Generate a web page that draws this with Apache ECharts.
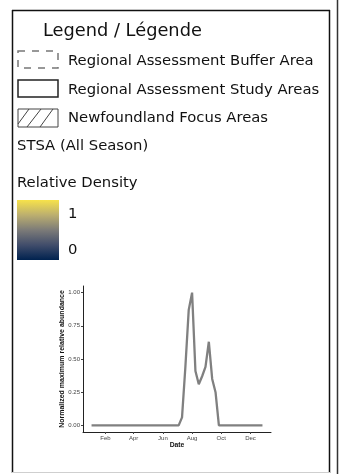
<!DOCTYPE html>
<html>
<head>
<meta charset="utf-8">
<script src="https://cdn.jsdelivr.net/npm/echarts@6/dist/echarts.min.js"></script>
<style>
    html, body { margin: 0; padding: 0; background: #fff; }
    #main { width: 339px; height: 474px; }
</style>
</head>
<body>
<div id="main"></div>
<script>
    // day of year of each weekly sample
    var weekDays = [3, 10, 17, 24, 31, 38, 45, 52, 59, 66, 73, 80, 87, 94, 101, 108, 115, 122, 129, 136,
        143, 150, 157, 164, 171, 178, 185, 192, 199, 206, 213, 220, 227, 234, 241, 248, 255, 262, 269, 276,
        283, 290, 297, 304, 311, 318, 325, 332, 339, 346, 353, 360]
    var abundance = [0, 0, 0, 0, 0, 0, 0, 0, 0, 0, 0, 0, 0, 0, 0, 0, 0, 0, 0, 0,
        0, 0, 0, 0, 0, 0, 0, 0.06, 0.44, 0.87, 1.0, 0.41, 0.31, 0.37, 0.44, 0.63, 0.35, 0.25, 0, 0,
        0, 0, 0, 0, 0, 0, 0, 0, 0, 0, 0, 0]
    var monthTickDays = [32, 91, 152, 213, 274, 335]
    var monthTickLabels = ['Feb', 'Apr', 'Jun', 'Aug', 'Oct', 'Dec']
    var yTicks = [0, 0.25, 0.5, 0.75, 1]

    var legendItems = ['Regional Assessment Buffer Area', 'Regional Assessment Study Areas', 'Newfoundland Focus Areas']
    var densityLabels = ['1', '0']

    var seriesData = weekDays.map(function(d, i) {
        return [d, abundance[i]]
    })

    var legendFont = '14.8px "DejaVu Sans"'
    var textColor = '#111'

    var myChart = echarts.init(document.getElementById('main'), null, { renderer: 'canvas' })
    var option = {
        animation: false,
        backgroundColor: '#fff',
        grid: {
            left: 83,
            right: 68,
            top: 286,
            bottom: 42
        },
        xAxis: {
            type: 'value',
            min: -14.85,
            max: 377.85,
            name: 'Date',
            nameLocation: 'middle',
            nameGap: 10,
            nameMoveOverlap: false,
            nameTextStyle: { fontSize: 6.8, fontWeight: 'bold', fontFamily: 'Liberation Sans', color: '#111' },
            splitLine: { show: false },
            axisLine: { show: true, onZero: false, lineStyle: { color: '#222', width: 1 } },
            axisTick: { show: true, length: 2, customValues: monthTickDays, lineStyle: { color: '#444' } },
            axisLabel: {
                customValues: monthTickDays,
                margin: 3,
                fontSize: 6,
                fontFamily: 'Liberation Sans',
                color: '#444',
                formatter: function(v) {
                    var i = monthTickDays.indexOf(v)
                    return i >= 0 ? monthTickLabels[i] : ''
                }
            }
        },
        yAxis: {
            type: 'value',
            min: -0.05,
            max: 1.05,
            name: 'Normalized maximum relative abundance',
            nameLocation: 'middle',
            nameGap: 17,
            nameMoveOverlap: false,
            nameTextStyle: { fontSize: 7, fontWeight: 'bold', fontFamily: 'Liberation Sans', color: '#111' },
            splitLine: { show: false },
            axisLine: { show: true, onZero: false, lineStyle: { color: '#222', width: 1 } },
            axisTick: { show: true, length: 2, customValues: yTicks, lineStyle: { color: '#444' } },
            axisLabel: {
                customValues: yTicks,
                margin: 3,
                fontSize: 6,
                fontFamily: 'Liberation Sans',
                color: '#444',
                formatter: function(v) { return v.toFixed(2) }
            }
        },
        series: [{
            type: 'line',
            data: seriesData,
            symbol: 'none',
            lineStyle: { color: '#808080', width: 2.3 }
        }],
        graphic: [
            // frame
            { type: 'line', shape: { x1: 12.5, y1: 10, x2: 12.5, y2: 473 }, style: { stroke: '#111', lineWidth: 1.5 } },
            { type: 'line', shape: { x1: 12, y1: 10.5, x2: 330, y2: 10.5 }, style: { stroke: '#111', lineWidth: 1.5 } },
            { type: 'line', shape: { x1: 329.5, y1: 10, x2: 329.5, y2: 473 }, style: { stroke: '#111', lineWidth: 1.5 } },
            { type: 'line', shape: { x1: 337.5, y1: 0, x2: 337.5, y2: 474 }, style: { stroke: '#333', lineWidth: 1.5 } },
            { type: 'line', shape: { x1: 12, y1: 472.5, x2: 330, y2: 472.5 }, style: { stroke: '#cfcfcf', lineWidth: 1 } },
            // title
            { type: 'text', x: 43, y: 31, style: { text: 'Legend / Légende', font: '17.8px "DejaVu Sans"', fill: textColor, verticalAlign: 'middle' } },
            // buffer area symbol (dashed)
            { type: 'rect', shape: { x: 18, y: 51, width: 40, height: 17 }, style: { fill: 'none', stroke: '#777', lineWidth: 1.5, lineDash: [7, 7] } },
            { type: 'text', x: 68, y: 61, style: { text: legendItems[0], font: legendFont, fill: textColor, verticalAlign: 'middle' } },
            // study areas symbol
            { type: 'rect', shape: { x: 18, y: 80, width: 40, height: 17 }, style: { fill: 'none', stroke: '#222', lineWidth: 1.5 } },
            { type: 'text', x: 68, y: 90, style: { text: legendItems[1], font: legendFont, fill: textColor, verticalAlign: 'middle' } },
            // focus areas symbol (hatched)
            { type: 'rect', shape: { x: 18, y: 109, width: 40, height: 18 }, style: { fill: 'none', stroke: '#444', lineWidth: 1 } },
            { type: 'line', shape: { x1: 18, y1: 124, x2: 29, y2: 109 }, style: { stroke: '#444', lineWidth: 1 } },
            { type: 'line', shape: { x1: 27, y1: 127, x2: 41, y2: 109 }, style: { stroke: '#444', lineWidth: 1 } },
            { type: 'line', shape: { x1: 40, y1: 127, x2: 53, y2: 109 }, style: { stroke: '#444', lineWidth: 1 } },
            { type: 'text', x: 68, y: 118, style: { text: legendItems[2], font: legendFont, fill: textColor, verticalAlign: 'middle' } },
            // layer name
            { type: 'text', x: 17, y: 146, style: { text: 'STSA (All Season)', font: legendFont, fill: textColor, verticalAlign: 'middle' } },
            { type: 'text', x: 17, y: 183, style: { text: 'Relative Density', font: legendFont, fill: textColor, verticalAlign: 'middle' } },
            // colour ramp
            {
                type: 'rect',
                shape: { x: 17, y: 200, width: 42, height: 60 },
                style: {
                    fill: new echarts.graphic.LinearGradient(0, 0, 0, 1, [
                        { offset: 0, color: '#f7e24a' },
                        { offset: 0.25, color: '#bcaf6f' },
                        { offset: 0.5, color: '#7c7b78' },
                        { offset: 0.75, color: '#414d6b' },
                        { offset: 1, color: '#00224f' }
                    ])
                }
            },
            { type: 'text', x: 68, y: 214, style: { text: densityLabels[0], font: legendFont, fill: textColor, verticalAlign: 'middle' } },
            { type: 'text', x: 68, y: 250, style: { text: densityLabels[1], font: legendFont, fill: textColor, verticalAlign: 'middle' } }
        ]
    }
    myChart.setOption(option)
</script>
</body>
</html>
